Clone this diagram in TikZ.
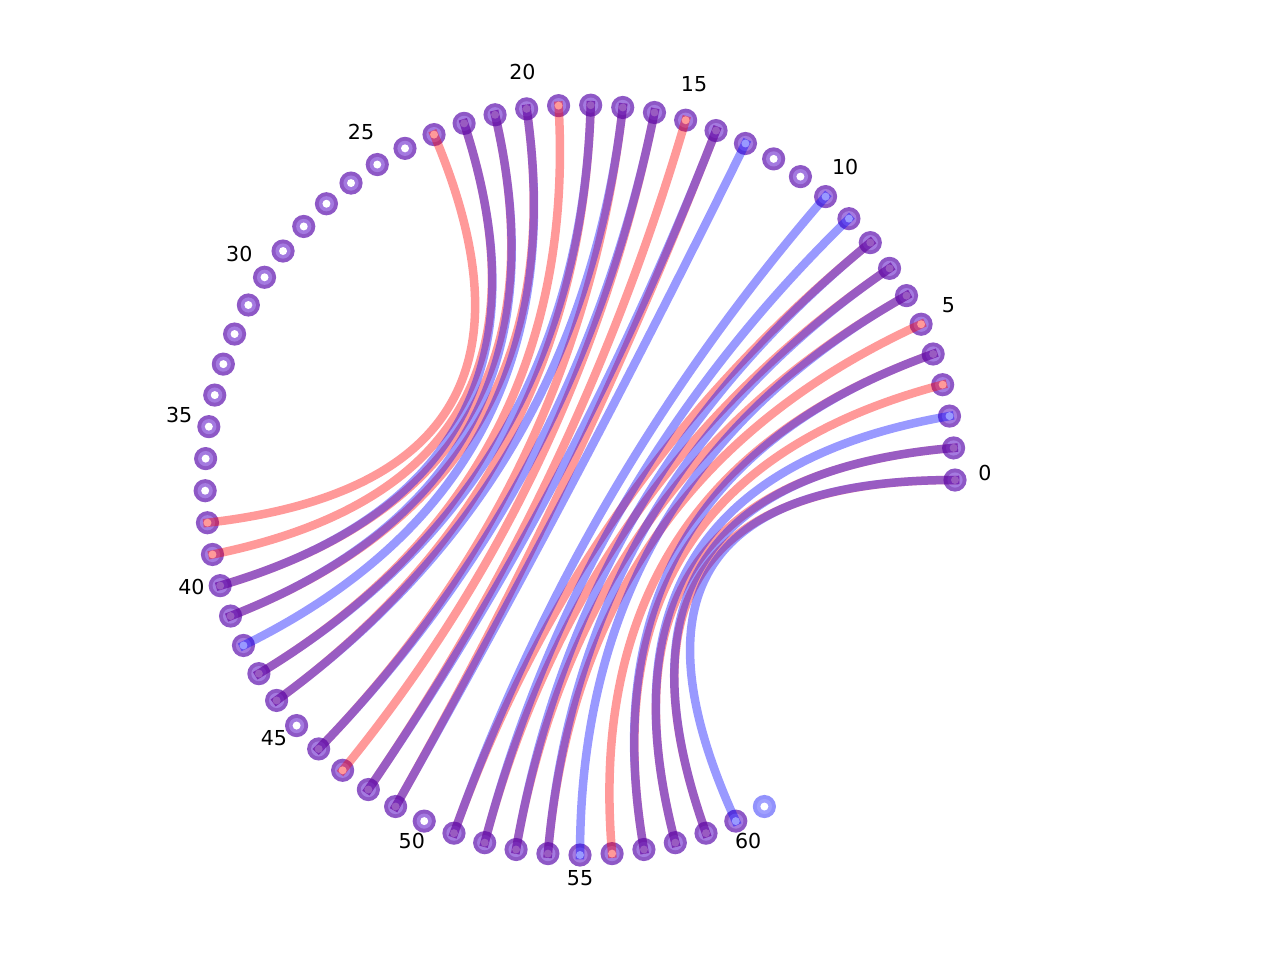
\documentclass[tikz,border=0pt]{standalone}
\usepackage{fontspec}
\setmainfont{DejaVu Sans}
\usetikzlibrary{calc}
\definecolor{ringout}{RGB}{142,88,198}
\definecolor{ringin}{RGB}{164,122,224}
\definecolor{bout}{RGB}{146,146,252}
\definecolor{bin}{RGB}{160,160,255}
\tikzset{
  redchord/.style={draw=red, draw opacity=0.4, line width=4.25pt, line cap=rect},
  bluechord/.style={draw=blue, draw opacity=0.4, line width=4.25pt, line cap=rect},
  lbl/.style={font=\fontsize{10.3}{12}\selectfont, text=black, inner sep=0pt}
}
\begin{document}
\begin{tikzpicture}[x=0.5pt,y=-0.5pt]
\useasboundingbox (0,0) rectangle (1280,960);
\coordinate (c) at (580,480);
\foreach \i in {0,...,61} {
  \coordinate (p\i) at ({580+375*cos(\i*54/11)},{480-375*sin(\i*54/11)});
}
% point markers
\foreach \i in {0,...,60} {
  \fill[ringout] (p\i) circle[radius=5.8pt];
  \fill[ringin] (p\i) circle[radius=3.8pt];
  \fill[white] (p\i) circle[radius=2pt];
}
\fill[bout] (p61) circle[radius=5.8pt];
\fill[bin] (p61) circle[radius=3.8pt];
\fill[white] (p61) circle[radius=2pt];
% red chords
\foreach \a/\b in {0/59,1/58,3/57,4/56,5/54,6/53,7/52,8/51,14/49,15/48,16/47,17/46,18/44,19/43,20/41,21/40,22/39,23/38} {
  \draw[redchord] (p\a) .. controls ($(p\a)!2/3!(c)$) and ($(p\b)!2/3!(c)$) .. (p\b);
}
% blue chords
\foreach \a/\b in {0/60,1/59,2/58,4/57,6/55,7/54,8/53,9/52,10/51,13/49,14/48,16/46,17/44,18/43,20/42,21/41,22/40} {
  \draw[bluechord] (p\a) .. controls ($(p\a)!2/3!(c)$) and ($(p\b)!2/3!(c)$) .. (p\b);
}
% labels
\foreach \k in {0,5,...,60} {
  \node[lbl] (l\k) at ({580+405*cos(\k*54/11)},{473-405*sin(\k*54/11)}) {\k};
}
\end{tikzpicture}
\end{document}
